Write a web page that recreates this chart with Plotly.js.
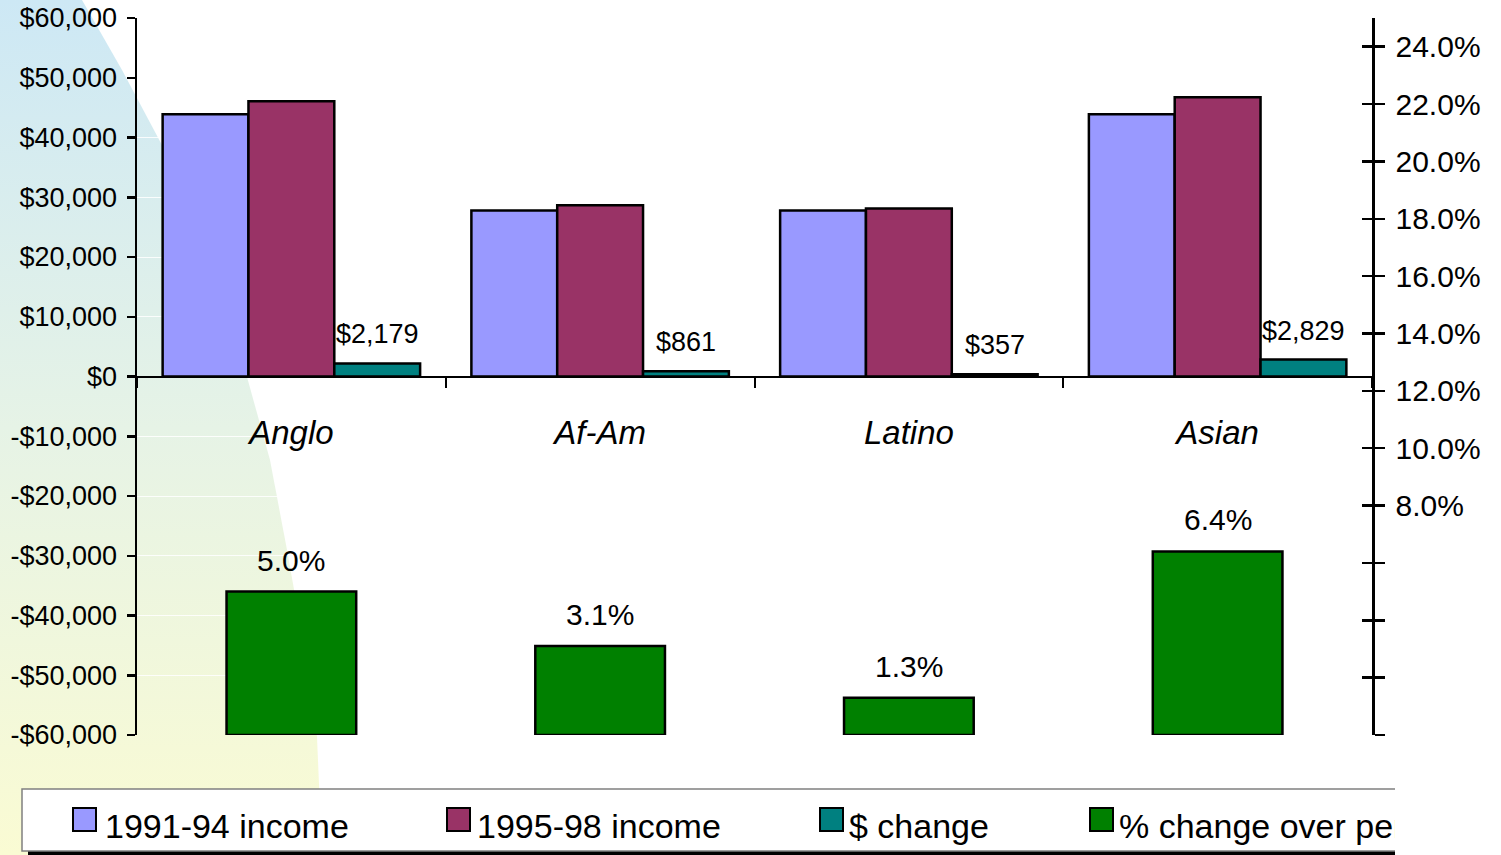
<!DOCTYPE html>
<html>
<head>
<meta charset="utf-8">
<script src="https://cdn.plot.ly/plotly-3.0.1.min.js"></script>
<style>
  html, body { margin: 0; padding: 0; background: #ffffff; width: 1501px; height: 855px; overflow: hidden; }
  #wrap { position: relative; width: 1501px; height: 855px; }
  #bg { position: absolute; left: 0; top: 0; }
  #chart { position: absolute; left: 0; top: 0; width: 1501px; height: 855px; }
  #edge { position: absolute; left: 1395px; top: 780px; width: 106px; height: 75px; background: #ffffff; }
</style>
</head>
<body>
<div id="wrap">
  <svg id="bg" width="1501" height="855">
    <defs>
      <linearGradient id="wash" x1="0" y1="0" x2="0" y2="1">
        <stop offset="0" stop-color="#cde8f5"/>
        <stop offset="0.5" stop-color="#e6f3e6"/>
        <stop offset="1" stop-color="#fafbd3"/>
      </linearGradient>
    </defs>
    <path d="M0,0 L82,0 L122,70 L163,147 L207,255 L247,377 L270,460 L287,550 L303,640 L317,737 L322,855 L0,855 Z" fill="url(#wash)"/>
  </svg>
  <div id="chart"></div>
  <div id="edge"></div>
</div>
<script>
// Household income by group, two periods, with the change between them
const categories = ['Anglo', 'Af-Am', 'Latino', 'Asian'];
const income9194 = [43900, 27800, 27780, 43900];
const income9598 = [46079, 28661, 28137, 46729];
const dollarChange = [2179, 861, 357, 2829];
const pctChange = [5.0, 3.1, 1.3, 6.4];

const seriesNames = ['1991-94 income', '1995-98 income', '$ change', '% change over period'];
const seriesColors = ['#9999ff', '#993366', '#008080', '#008000'];

const leftTickVals = [-60000, -50000, -40000, -30000, -20000, -10000, 0, 10000, 20000, 30000, 40000, 50000, 60000];
const leftTickText = ['-$60,000', '-$50,000', '-$40,000', '-$30,000', '-$20,000', '-$10,000', '$0',
                      '$10,000', '$20,000', '$30,000', '$40,000', '$50,000', '$60,000'];
const rightTickVals = [0, 2, 4, 6, 8, 10, 12, 14, 16, 18, 20, 22, 24];
const rightTickText = ['', '', '', '', '8.0%', '10.0%', '12.0%', '14.0%', '16.0%', '18.0%', '20.0%', '22.0%', '24.0%'];

const FONT = 'Arial, "Liberation Sans", sans-serif';
const W = 1501, H = 855;
const M = { l: 137, r: 129, t: 18, b: 120 };
const plotW = W - M.l - M.r, plotH = H - M.t - M.b;
const px = x => (x - M.l) / plotW;            // page x -> paper x
const py = y => (H - M.b - y) / plotH;        // page y -> paper y

// bar geometry within a category slot
const incW = 0.278;
const incOffsets = [-0.417, -0.139, 0.139];
const pctW = 0.42;

const outline = { color: '#000000', width: 2.5 };

const traces = [
  { type: 'bar', x: categories, y: income9194, name: seriesNames[0], width: incW, offset: incOffsets[0],
    marker: { color: seriesColors[0], line: outline }, yaxis: 'y', hoverinfo: 'x+y' },
  { type: 'bar', x: categories, y: income9598, name: seriesNames[1], width: incW, offset: incOffsets[1],
    marker: { color: seriesColors[1], line: outline }, yaxis: 'y', hoverinfo: 'x+y' },
  { type: 'bar', x: categories, y: dollarChange, name: seriesNames[2], width: incW, offset: incOffsets[2],
    marker: { color: seriesColors[2], line: outline }, yaxis: 'y', hoverinfo: 'x+y' },
  { type: 'bar', x: categories, y: pctChange, name: seriesNames[3], width: pctW, offset: -pctW / 2,
    marker: { color: seriesColors[3], line: outline }, yaxis: 'y2', hoverinfo: 'x+y' },
  // carries the inward half of the right-hand tick marks
  { type: 'scatter', x: categories, y: pctChange, yaxis: 'y3', mode: 'none', hoverinfo: 'skip', showlegend: false }
];

const annotations = [];
categories.forEach((c, i) => {
  annotations.push({
    x: i + incOffsets[2] + incW / 2, y: dollarChange[i], xref: 'x', yref: 'y',
    text: '$' + dollarChange[i].toLocaleString('en-US'),
    showarrow: false, xanchor: 'center', yanchor: 'bottom', yshift: 12,
    font: { family: FONT, size: 27, color: '#000' }
  });
  annotations.push({
    x: i, y: pctChange[i], xref: 'x', yref: 'y2',
    text: pctChange[i].toFixed(1) + '%',
    showarrow: false, xanchor: 'center', yanchor: 'bottom', yshift: 13,
    font: { family: FONT, size: 30, color: '#000' }
  });
});

// legend panel
const legendSwatchX = [73, 447, 820, 1090];
const legendTextX = [103, 475, 847, 1117];
const shapes = [
  { type: 'rect', xref: 'paper', yref: 'paper', x0: px(28), x1: px(1420), y0: py(851), y1: py(856),
    fillcolor: '#000000', line: { width: 0 }, layer: 'below' },
  { type: 'rect', xref: 'paper', yref: 'paper', x0: px(22), x1: px(1420), y0: py(789), y1: py(851),
    fillcolor: '#ffffff', line: { color: '#808080', width: 1.5 }, layer: 'below' }
];
seriesNames.forEach((name, k) => {
  shapes.push({ type: 'rect', xref: 'paper', yref: 'paper',
    x0: px(legendSwatchX[k]), x1: px(legendSwatchX[k] + 23), y0: py(831), y1: py(808),
    fillcolor: seriesColors[k], line: { color: '#000000', width: 2 }, layer: 'above' });
  annotations.push({ xref: 'paper', yref: 'paper', x: px(legendTextX[k]), y: py(826),
    text: name, showarrow: false, xanchor: 'left', yanchor: 'middle',
    font: { family: FONT, size: 34, color: '#000' } });
});

const layout = {
  width: W, height: H,
  margin: M,
  paper_bgcolor: 'rgba(0,0,0,0)',
  plot_bgcolor: 'rgba(0,0,0,0)',
  showlegend: false,
  barmode: 'overlay',
  font: { family: FONT, color: '#000' },
  xaxis: {
    type: 'category', range: [-0.5, 3.5],
    anchor: 'free', position: 0.5,
    showline: true, linecolor: '#000', linewidth: 2.5,
    ticks: 'outside', ticklen: 10, tickwidth: 2, tickcolor: '#000', tickson: 'boundaries',
    ticklabelstandoff: 26,
    tickfont: { family: FONT, size: 33, style: 'italic', color: '#000' },
    showgrid: false, zeroline: false, fixedrange: true
  },
  yaxis: {
    range: [-60000, 60000], tickvals: leftTickVals, ticktext: leftTickText,
    showline: true, linecolor: '#000', linewidth: 2.5,
    ticks: 'outside', ticklen: 8, tickwidth: 2.5, tickcolor: '#000',
    ticklabelstandoff: 4,
    tickfont: { family: FONT, size: 27, color: '#000' },
    showgrid: true, gridcolor: 'rgba(255,255,255,0.85)', gridwidth: 1,
    zeroline: false, fixedrange: true
  },
  yaxis2: {
    overlaying: 'y', side: 'right', anchor: 'x',
    range: [0, 25], tickvals: rightTickVals, ticktext: rightTickText,
    showline: true, linecolor: '#000', linewidth: 2.5,
    ticks: 'outside', ticklen: 10, tickwidth: 2.5, tickcolor: '#000',
    ticklabelstandoff: 5,
    tickfont: { family: FONT, size: 30, color: '#000' },
    showgrid: false, zeroline: false, fixedrange: true
  },
  yaxis3: {
    overlaying: 'y', side: 'right', anchor: 'x',
    range: [0, 25], tickvals: rightTickVals,
    showline: false, showticklabels: false,
    ticks: 'inside', ticklen: 10, tickwidth: 2.5, tickcolor: '#000',
    showgrid: false, zeroline: false, fixedrange: true
  },
  annotations: annotations,
  shapes: shapes
};

Plotly.newPlot('chart', traces, layout, { displayModeBar: false, staticPlot: true });
</script>
</body>
</html>
